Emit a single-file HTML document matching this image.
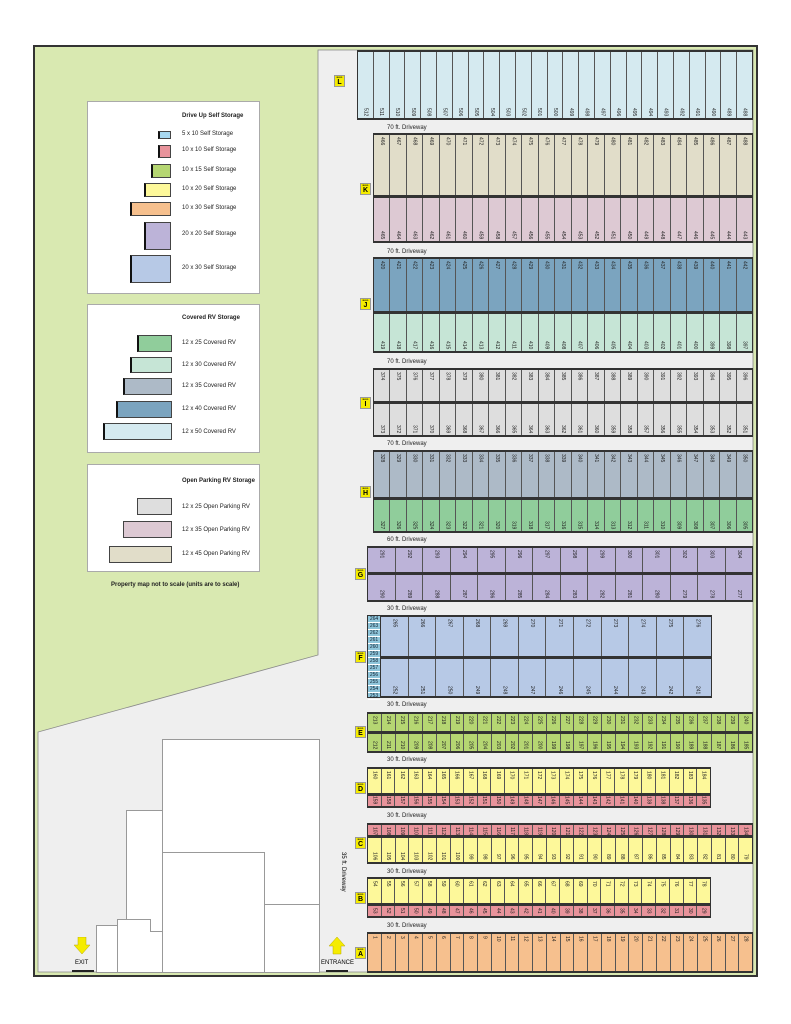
<!DOCTYPE html>
<html><head><meta charset="utf-8"><style>
*{box-sizing:border-box}
body{margin:0;width:791px;height:1024px;background:#fff;position:relative;overflow:hidden;font-family:"Liberation Sans",Arial,sans-serif}
.a{position:absolute}
.r{position:absolute;display:flex;border:1px solid #333;border-top:2px solid #333;border-bottom:2px solid #333}
.r i{flex:1;border-right:1px solid #555;font-style:normal;font-size:5px;color:#222;writing-mode:vertical-rl;display:flex;justify-content:flex-start;align-items:center;padding-top:2px}
.r i:last-child{border-right:0}
.r.b i{justify-content:flex-end;padding-bottom:2px;padding-top:0}
.st{position:absolute;left:367px;top:615px;width:14px;height:83px;border:1px solid #333;display:flex;flex-direction:column;background:#8fc6db}
.st i{flex:1;font-style:normal;font-size:5px;border-bottom:1px solid #fff;text-align:center;line-height:6px;color:#123}
.dw{position:absolute;font-size:6px;color:#222}
.bl{position:absolute;width:11px;height:12px;background:#f5ec00;border:1px solid #999;text-align:center;font-size:7px;font-weight:bold;line-height:13px}
.bl:before{content:"BLDG";position:absolute;top:1px;left:0;right:0;font-size:2px;line-height:2px}
.lg{position:absolute;background:#fff;border:1px solid #aaa}
.sw{position:absolute;border:1px solid #444;border-left:2px solid #111}
.lt{position:absolute;left:182px;font-size:6px;color:#222}
.ti{position:absolute;left:182px;font-size:6px;font-weight:bold;color:#222}
.bd{position:absolute;background:#fff;border:1px solid #999}
</style></head><body>
<div class="a" style="left:33px;top:45px;width:725px;height:932px;background:#333"></div>
<div class="a" style="left:35px;top:47px;width:721px;height:928px;background:#d9e9b1"></div>
<svg class="a" style="left:0;top:0" width="791" height="1024"><polygon points="318,50 753,50 753,972 38,972 38,732 318,655" fill="#efefef" stroke="#888" stroke-width="0.8"/></svg>

<!-- legend 1 -->
<div class="lg" style="left:87px;top:101px;width:173px;height:193px"></div>
<div class="ti" style="top:113px">Drive Up Self Storage</div>
<div class="sw" style="left:158px;top:131px;width:13px;height:8px;background:#a8d8f0"></div><div class="lt" style="top:131px">5 x 10 Self Storage</div>
<div class="sw" style="left:158px;top:145px;width:13px;height:13px;background:#e8939b"></div><div class="lt" style="top:147px">10 x 10 Self Storage</div>
<div class="sw" style="left:151px;top:164px;width:20px;height:14px;background:#b5d672"></div><div class="lt" style="top:167px">10 x 15 Self Storage</div>
<div class="sw" style="left:144px;top:183px;width:27px;height:14px;background:#fdf89a"></div><div class="lt" style="top:186px">10 x 20 Self Storage</div>
<div class="sw" style="left:130px;top:202px;width:41px;height:14px;background:#f6c08e"></div><div class="lt" style="top:205px">10 x 30 Self Storage</div>
<div class="sw" style="left:144px;top:222px;width:27px;height:28px;background:#bcb3d8"></div><div class="lt" style="top:231px">20 x 20 Self Storage</div>
<div class="sw" style="left:130px;top:255px;width:41px;height:28px;background:#b7c9e6"></div><div class="lt" style="top:265px">20 x 30 Self Storage</div>
<!-- legend 2 -->
<div class="lg" style="left:87px;top:304px;width:173px;height:149px"></div>
<div class="ti" style="top:315px">Covered RV Storage</div>
<div class="sw" style="left:137px;top:335px;width:35px;height:17px;background:#90cd9b"></div><div class="lt" style="top:340px">12 x 25 Covered RV</div>
<div class="sw" style="left:130px;top:357px;width:42px;height:16px;background:#c6e5d6"></div><div class="lt" style="top:362px">12 x 30 Covered RV</div>
<div class="sw" style="left:123px;top:378px;width:49px;height:17px;background:#adbac7"></div><div class="lt" style="top:383px">12 x 35 Covered RV</div>
<div class="sw" style="left:116px;top:401px;width:56px;height:17px;background:#7ba4bf"></div><div class="lt" style="top:406px">12 x 40 Covered RV</div>
<div class="sw" style="left:103px;top:423px;width:69px;height:17px;background:#d5eaf0"></div><div class="lt" style="top:429px">12 x 50 Covered RV</div>
<!-- legend 3 -->
<div class="lg" style="left:87px;top:464px;width:173px;height:108px"></div>
<div class="ti" style="top:478px">Open Parking RV Storage</div>
<div class="sw" style="left:137px;top:498px;width:35px;height:17px;border-left:1px solid #444;background:#dedede"></div><div class="lt" style="top:504px">12 x 25 Open Parking RV</div>
<div class="sw" style="left:123px;top:521px;width:49px;height:17px;border-left:1px solid #444;background:#ddc9d3"></div><div class="lt" style="top:527px">12 x 35 Open Parking RV</div>
<div class="sw" style="left:109px;top:546px;width:63px;height:17px;border-left:1px solid #444;background:#e1ddc9"></div><div class="lt" style="top:551px">12 x 45 Open Parking RV</div>
<div class="a" style="left:111px;top:582px;font-size:6px;font-weight:bold;color:#222">Property map not to scale (units are to scale)</div>

<!-- buildings -->
<div class="bd" style="left:162px;top:739px;width:158px;height:234px"></div>
<div class="a" style="left:162px;top:852px;width:103px;height:121px;border-top:1px solid #999;border-right:1px solid #999"></div>
<div class="a" style="left:265px;top:904px;width:55px;height:1px;background:#999"></div>
<div class="bd" style="left:126px;top:810px;width:37px;height:163px"></div>
<div class="bd" style="left:117px;top:919px;width:34px;height:54px"></div>
<div class="bd" style="left:150px;top:931px;width:13px;height:42px;border-left:0"></div>
<div class="bd" style="left:96px;top:925px;width:22px;height:48px"></div>
<svg class="a" style="left:73px;top:937px" width="18" height="18"><polygon points="5,0 13,0 13,8 17,8 9,17 1,8 5,8" fill="#f5ec00" stroke="#b8a800" stroke-width=".5"/></svg>
<div class="a" style="left:75px;top:960px;font-size:6px">EXIT</div>
<div class="a" style="left:72px;top:970px;width:22px;height:2px;background:#222"></div>
<svg class="a" style="left:328px;top:937px" width="18" height="18"><polygon points="5,17 13,17 13,9 17,9 9,0 1,9 5,9" fill="#f5ec00" stroke="#b8a800" stroke-width=".5"/></svg>
<div class="a" style="left:321px;top:960px;font-size:6px">ENTRANCE</div>
<div class="a" style="left:326px;top:970px;width:22px;height:2px;background:#222"></div>
<div class="a" style="left:340px;top:852px;font-size:6px;writing-mode:vertical-rl">35 ft. Driveway</div>

<!-- L -->
<div class="r b" style="left:357px;top:50px;width:396px;height:70px;background:#d5eaf0"><i>512</i><i>511</i><i>510</i><i>509</i><i>508</i><i>507</i><i>506</i><i>505</i><i>504</i><i>503</i><i>502</i><i>501</i><i>500</i><i>499</i><i>498</i><i>497</i><i>496</i><i>495</i><i>494</i><i>493</i><i>492</i><i>491</i><i>490</i><i>489</i><i>488</i></div>
<div class="dw" style="left:387px;top:125px">70 ft. Driveway</div>
<!-- K -->
<div class="r" style="left:373px;top:133px;width:380px;height:64px;background:#e1ddc9"><i>466</i><i>467</i><i>468</i><i>469</i><i>470</i><i>471</i><i>472</i><i>473</i><i>474</i><i>475</i><i>476</i><i>477</i><i>478</i><i>479</i><i>480</i><i>481</i><i>482</i><i>483</i><i>484</i><i>485</i><i>486</i><i>487</i><i>488</i></div>
<div class="r b" style="left:373px;top:196px;width:380px;height:47px;background:#ddc9d3"><i>465</i><i>464</i><i>463</i><i>462</i><i>461</i><i>460</i><i>459</i><i>458</i><i>457</i><i>456</i><i>455</i><i>454</i><i>453</i><i>452</i><i>451</i><i>450</i><i>449</i><i>448</i><i>447</i><i>446</i><i>445</i><i>444</i><i>443</i></div>
<div class="dw" style="left:387px;top:249px">70 ft. Driveway</div>
<!-- J -->
<div class="r" style="left:373px;top:257px;width:380px;height:56px;background:#7ba4bf"><i>420</i><i>421</i><i>422</i><i>423</i><i>424</i><i>425</i><i>426</i><i>427</i><i>428</i><i>429</i><i>430</i><i>431</i><i>432</i><i>433</i><i>434</i><i>435</i><i>436</i><i>437</i><i>438</i><i>439</i><i>440</i><i>441</i><i>442</i></div>
<div class="r b" style="left:373px;top:312px;width:380px;height:41px;background:#c6e5d6"><i>419</i><i>418</i><i>417</i><i>416</i><i>415</i><i>414</i><i>413</i><i>412</i><i>411</i><i>410</i><i>409</i><i>408</i><i>407</i><i>406</i><i>405</i><i>404</i><i>403</i><i>402</i><i>401</i><i>400</i><i>399</i><i>398</i><i>397</i></div>
<div class="dw" style="left:387px;top:359px">70 ft. Driveway</div>
<!-- I -->
<div class="r" style="left:373px;top:368px;width:380px;height:35px;background:#dedede"><i>374</i><i>375</i><i>376</i><i>377</i><i>378</i><i>379</i><i>380</i><i>381</i><i>382</i><i>383</i><i>384</i><i>385</i><i>386</i><i>387</i><i>388</i><i>389</i><i>390</i><i>391</i><i>392</i><i>393</i><i>394</i><i>395</i><i>396</i></div>
<div class="r b" style="left:373px;top:402px;width:380px;height:35px;background:#dedede"><i>373</i><i>372</i><i>371</i><i>370</i><i>369</i><i>368</i><i>367</i><i>366</i><i>365</i><i>364</i><i>363</i><i>362</i><i>361</i><i>360</i><i>359</i><i>358</i><i>357</i><i>356</i><i>355</i><i>354</i><i>353</i><i>352</i><i>351</i></div>
<div class="dw" style="left:387px;top:441px">70 ft. Driveway</div>
<!-- H -->
<div class="r" style="left:373px;top:450px;width:380px;height:49px;background:#adbac7"><i>328</i><i>329</i><i>330</i><i>331</i><i>332</i><i>333</i><i>334</i><i>335</i><i>336</i><i>337</i><i>338</i><i>339</i><i>340</i><i>341</i><i>342</i><i>343</i><i>344</i><i>345</i><i>346</i><i>347</i><i>348</i><i>349</i><i>350</i></div>
<div class="r b" style="left:373px;top:498px;width:380px;height:35px;background:#90cd9b"><i>327</i><i>326</i><i>325</i><i>324</i><i>323</i><i>322</i><i>321</i><i>320</i><i>319</i><i>318</i><i>317</i><i>316</i><i>315</i><i>314</i><i>313</i><i>312</i><i>311</i><i>310</i><i>309</i><i>308</i><i>307</i><i>306</i><i>305</i></div>
<div class="dw" style="left:387px;top:537px">60 ft. Driveway</div>
<!-- G -->
<div class="r" style="left:367px;top:546px;width:386px;height:28px;background:#bcb3d8"><i>291</i><i>292</i><i>293</i><i>294</i><i>295</i><i>296</i><i>297</i><i>298</i><i>299</i><i>300</i><i>301</i><i>302</i><i>303</i><i>304</i></div>
<div class="r b" style="left:367px;top:573px;width:386px;height:29px;background:#bcb3d8"><i>290</i><i>289</i><i>288</i><i>287</i><i>286</i><i>285</i><i>284</i><i>283</i><i>282</i><i>281</i><i>280</i><i>279</i><i>278</i><i>277</i></div>
<div class="dw" style="left:387px;top:606px">30 ft. Driveway</div>
<!-- F -->
<div class="st"><i>264</i><i>263</i><i>262</i><i>261</i><i>260</i><i>259</i><i>258</i><i>257</i><i>256</i><i>255</i><i>254</i><i>253</i></div>
<div class="r" style="left:381px;top:615px;width:331px;height:43px;background:#b7c9e6;border-left:0"><i>265</i><i>266</i><i>267</i><i>268</i><i>269</i><i>270</i><i>271</i><i>272</i><i>273</i><i>274</i><i>275</i><i>276</i></div>
<div class="r b" style="left:381px;top:657px;width:331px;height:41px;background:#b7c9e6;border-left:0"><i>252</i><i>251</i><i>250</i><i>249</i><i>248</i><i>247</i><i>246</i><i>245</i><i>244</i><i>243</i><i>242</i><i>241</i></div>
<div class="dw" style="left:387px;top:702px">30 ft. Driveway</div>
<!-- E -->
<div class="r" style="left:367px;top:712px;width:386px;height:21px;background:#b5d672"><i>213</i><i>214</i><i>215</i><i>216</i><i>217</i><i>218</i><i>219</i><i>220</i><i>221</i><i>222</i><i>223</i><i>224</i><i>225</i><i>226</i><i>227</i><i>228</i><i>229</i><i>230</i><i>231</i><i>232</i><i>233</i><i>234</i><i>235</i><i>236</i><i>237</i><i>238</i><i>239</i><i>240</i></div>
<div class="r b" style="left:367px;top:732px;width:386px;height:21px;background:#b5d672"><i>212</i><i>211</i><i>210</i><i>209</i><i>208</i><i>207</i><i>206</i><i>205</i><i>204</i><i>203</i><i>202</i><i>201</i><i>200</i><i>199</i><i>198</i><i>197</i><i>196</i><i>195</i><i>194</i><i>193</i><i>192</i><i>191</i><i>190</i><i>189</i><i>188</i><i>187</i><i>186</i><i>185</i></div>
<div class="dw" style="left:387px;top:757px">30 ft. Driveway</div>
<!-- D -->
<div class="r" style="left:367px;top:767px;width:344px;height:28px;background:#fdf89a"><i>160</i><i>161</i><i>162</i><i>163</i><i>164</i><i>165</i><i>166</i><i>167</i><i>168</i><i>169</i><i>170</i><i>171</i><i>172</i><i>173</i><i>174</i><i>175</i><i>176</i><i>177</i><i>178</i><i>179</i><i>180</i><i>181</i><i>182</i><i>183</i><i>184</i></div>
<div class="r b" style="left:367px;top:794px;width:344px;height:14px;background:#e8939b"><i>159</i><i>158</i><i>157</i><i>156</i><i>155</i><i>154</i><i>153</i><i>152</i><i>151</i><i>150</i><i>149</i><i>148</i><i>147</i><i>146</i><i>145</i><i>144</i><i>143</i><i>142</i><i>141</i><i>140</i><i>139</i><i>138</i><i>137</i><i>136</i><i>135</i></div>
<div class="dw" style="left:387px;top:813px">30 ft. Driveway</div>
<!-- C -->
<div class="r" style="left:367px;top:823px;width:386px;height:14px;background:#e8939b"><i>107</i><i>108</i><i>109</i><i>110</i><i>111</i><i>112</i><i>113</i><i>114</i><i>115</i><i>116</i><i>117</i><i>118</i><i>119</i><i>120</i><i>121</i><i>122</i><i>123</i><i>124</i><i>125</i><i>126</i><i>127</i><i>128</i><i>129</i><i>130</i><i>131</i><i>132</i><i>133</i><i>134</i></div>
<div class="r b" style="left:367px;top:836px;width:386px;height:28px;background:#fdf89a"><i>106</i><i>105</i><i>104</i><i>103</i><i>102</i><i>101</i><i>100</i><i>99</i><i>98</i><i>97</i><i>96</i><i>95</i><i>94</i><i>93</i><i>92</i><i>91</i><i>90</i><i>89</i><i>88</i><i>87</i><i>86</i><i>85</i><i>84</i><i>83</i><i>82</i><i>81</i><i>80</i><i>79</i></div>
<div class="dw" style="left:387px;top:869px">30 ft. Driveway</div>
<!-- B -->
<div class="r" style="left:367px;top:877px;width:344px;height:28px;background:#fdf89a"><i>54</i><i>55</i><i>56</i><i>57</i><i>58</i><i>59</i><i>60</i><i>61</i><i>62</i><i>63</i><i>64</i><i>65</i><i>66</i><i>67</i><i>68</i><i>69</i><i>70</i><i>71</i><i>72</i><i>73</i><i>74</i><i>75</i><i>76</i><i>77</i><i>78</i></div>
<div class="r b" style="left:367px;top:904px;width:344px;height:14px;background:#e8939b"><i>53</i><i>52</i><i>51</i><i>50</i><i>49</i><i>48</i><i>47</i><i>46</i><i>45</i><i>44</i><i>43</i><i>42</i><i>41</i><i>40</i><i>39</i><i>38</i><i>37</i><i>36</i><i>35</i><i>34</i><i>33</i><i>32</i><i>31</i><i>30</i><i>29</i></div>
<div class="dw" style="left:387px;top:923px">30 ft. Driveway</div>
<!-- A -->
<div class="r" style="left:367px;top:932px;width:386px;height:41px;background:#f6c08e"><i>1</i><i>2</i><i>3</i><i>4</i><i>5</i><i>6</i><i>7</i><i>8</i><i>9</i><i>10</i><i>11</i><i>12</i><i>13</i><i>14</i><i>15</i><i>16</i><i>17</i><i>18</i><i>19</i><i>20</i><i>21</i><i>22</i><i>23</i><i>24</i><i>25</i><i>26</i><i>27</i><i>28</i></div>

<!-- labels -->
<div class="bl" style="left:334px;top:75px">L</div>
<div class="bl" style="left:360px;top:183px">K</div>
<div class="bl" style="left:360px;top:298px">J</div>
<div class="bl" style="left:360px;top:397px">I</div>
<div class="bl" style="left:360px;top:486px">H</div>
<div class="bl" style="left:355px;top:568px">G</div>
<div class="bl" style="left:355px;top:651px">F</div>
<div class="bl" style="left:355px;top:726px">E</div>
<div class="bl" style="left:355px;top:782px">D</div>
<div class="bl" style="left:355px;top:837px">C</div>
<div class="bl" style="left:355px;top:892px">B</div>
<div class="bl" style="left:355px;top:947px">A</div>
</body></html>
